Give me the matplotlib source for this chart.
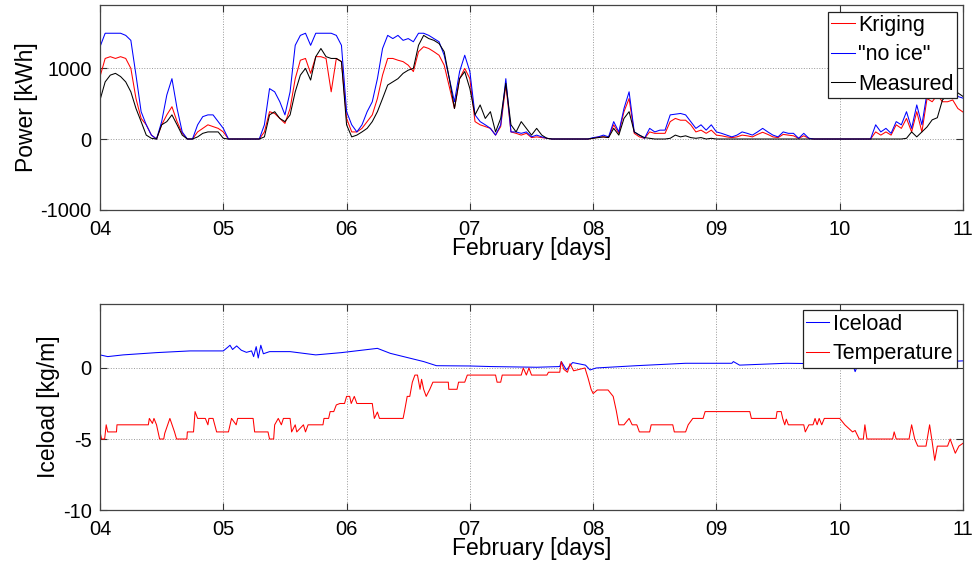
import numpy as np
import matplotlib
matplotlib.use("Agg")
import matplotlib.pyplot as plt

plt.rcParams['font.family'] = ['Liberation Sans', 'DejaVu Sans']
plt.rcParams['axes.unicode_minus'] = False

# hourly values from 4 Feb 00:00 to 11 Feb 00:00 (169 points)
kriging = [
    880, 1135, 1160, 1135, 1160, 1135, 995, 570, 290, 200, 55, 0, 200, 340, 455, 245, 80, 0, 0, 100, 150, 200, 175, 150,
    100, 0, 0, 0, 0, 0, 0, 0, 100, 385, 360, 290, 220, 430, 850, 1110, 1135, 925, 1160, 1160, 1135, 665, 1135, 1090,
    290, 100, 100, 150, 245, 340, 570, 900, 1135, 1135, 1110, 1090, 1040, 950, 1230, 1300, 1275, 1230, 1180, 1040, 735, 430, 850, 995,
    850, 245, 200, 175, 150, 55, 175, 760, 100, 80, 55, 80, 20, 30, 20, 10, 0, 0, 0, 0, 0, 0, 0, 0,
    10, 30, 30, 20, 200, 80, 385, 570, 80, 30, 10, 100, 80, 80, 80, 245, 290, 265, 265, 200, 100, 125, 80, 125,
    55, 45, 30, 20, 30, 55, 45, 30, 65, 95, 65, 30, 20, 65, 55, 45, 10, 45, 10, 0, 0, 0, 0, 0,
    0, 0, 0, 0, 0, 0, 0, 100, 55, 100, 55, 200, 150, 290, 100, 385, 100, 570, 525, 620, 525, 525, 550, 430,
    380]
no_ice = [
    1300, 1490, 1490, 1490, 1490, 1460, 1390, 900, 385, 200, 55, 0, 245, 620, 850, 430, 100, 0, 0, 200, 315, 340, 340, 245,
    150, 0, 0, 0, 0, 0, 0, 0, 200, 710, 665, 525, 340, 665, 1320, 1460, 1490, 1320, 1490, 1490, 1490, 1490, 1460, 1320,
    385, 200, 100, 200, 385, 525, 850, 1275, 1460, 1415, 1460, 1390, 1415, 1370, 1490, 1490, 1460, 1415, 1370, 1180, 850, 525, 950, 1180,
    950, 340, 245, 200, 150, 55, 200, 850, 100, 100, 80, 100, 30, 55, 30, 10, 0, 0, 0, 0, 0, 0, 0, 0,
    20, 30, 55, 30, 245, 100, 430, 665, 100, 55, 10, 150, 100, 125, 125, 340, 350, 360, 340, 245, 150, 200, 125, 200,
    100, 80, 55, 30, 55, 100, 80, 55, 100, 150, 100, 55, 30, 100, 80, 80, 10, 80, 10, 0, 0, 0, 0, 0,
    0, 0, 0, 0, 0, 0, 0, 200, 100, 150, 80, 245, 200, 385, 150, 480, 200, 650, 570, 710, 595, 570, 760, 600,
    575]
measured = [
    550, 805, 900, 925, 880, 805, 665, 430, 245, 55, 10, 0, 200, 245, 340, 200, 55, 0, 0, 30, 80, 100, 100, 100,
    10, 0, 0, 0, 0, 0, 0, 0, 30, 340, 385, 290, 245, 340, 665, 900, 995, 830, 1160, 1275, 1160, 1135, 1135, 1090,
    200, 30, 55, 100, 150, 245, 385, 570, 760, 805, 850, 925, 970, 995, 1320, 1460, 1415, 1390, 1345, 1230, 850, 430, 850, 950,
    710, 340, 480, 290, 385, 100, 290, 785, 200, 100, 245, 150, 55, 150, 55, 10, 0, 0, 0, 0, 0, 0, 0, 0,
    10, 20, 30, 20, 150, 55, 290, 385, 100, 55, 20, 10, 0, 0, 0, 10, 55, 30, 45, 20, 10, 20, 0, 10,
    0, 0, 0, 0, 0, 0, 0, 0, 0, 0, 0, 0, 0, 0, 0, 0, 0, 0, 0, 0, 0, 0, 0, 0,
    0, 0, 0, 0, 0, 0, 0, 0, 0, 0, 0, 0, 0, 10, 100, 30, 100, 170, 270, 300, 550, 620, 700, 650,
    600]

# ice load [kg/m], (hour, value) pairs
ice_h = [0, 1.5, 4.5, 11, 17.5, 24, 25, 25.3, 25.8, 26.6, 27.5, 28.5, 29.5, 29.9, 30.4, 30.8, 31.3, 31.8, 33, 37,
         42, 47, 54, 56.5, 63, 65.5, 72, 76, 85, 89.5, 89.8, 90.8, 92, 94.5, 95.4, 96.6, 104.4, 114, 123, 123.3,
         124.5, 133.6, 140, 146.5, 147, 147.5, 155, 168]
ice_v = [0.92, 0.8, 0.92, 1.08, 1.2, 1.2, 1.5, 1.6, 1.3, 1.55, 1.25, 1.1, 1.2, 0.8, 1.5, 0.7, 1.6, 1.0, 1.15, 1.15,
         0.92, 1.08, 1.38, 1.03, 0.45, 0.16, 0.14, 0.1, 0.05, 0.1, 0.45, -0.14, 0.38, 0.2, -0.14, 0.0, 0.16, 0.33, 0.33, 0.45,
         0.2, 0.33, 0.3, 0.3, -0.26, 0.2, 0.3, 0.5]

# temperature [C], (hour, value) pairs
temp_h = [0, 0.3, 0.9, 1.2, 1.5, 3.2, 3.3, 9.4, 9.6, 10.2, 10.5, 11.0, 11.6, 12.4, 12.6, 13.6, 14.5, 14.9, 16.9, 17.0,
          18.2, 18.5, 19.0, 20.5, 21.0, 21.2, 22.0, 22.7, 25.0, 25.6, 26.5, 26.8, 29.8, 30.1, 32.7, 33.0, 33.8, 34.0, 34.7, 35.3,
          35.7, 37.0, 37.3, 38.0, 38.3, 39.6, 40.0, 40.5, 43.4, 43.6, 44.5, 44.8, 45.5, 46.0, 46.7, 47.6, 48.0, 48.6, 48.9, 49.5,
          50.0, 53.0, 53.4, 54.0, 54.4, 59.0, 59.3, 59.8, 60.3, 60.8, 61.3, 61.8, 62.3, 62.6, 63.0, 63.5, 64.2, 64.8, 65.5, 67.8,
          67.9, 69.5, 69.8, 71.0, 71.5, 77.0, 77.3, 78.0, 78.3, 82.0, 82.4, 83.0, 83.5, 84.0, 87.0, 87.3, 89.5, 89.8, 90.3, 91.0,
          91.5, 92.2, 94.4, 95.0, 95.6, 96.0, 96.8, 98.9, 99.9, 100.5, 101.0, 102.0, 103.0, 103.6, 104.5, 105.0, 107.0, 107.3, 111.5, 111.8,
          114.0, 114.5, 115.4, 117.4, 117.8, 126.5, 126.8, 131.6, 131.8, 132.6, 132.9, 133.3, 133.6, 134.0, 137.0, 137.3, 138.0, 138.8, 139.2, 139.6,
          140.0, 140.5, 141.0, 144.0, 145.0, 146.5, 147.0, 147.8, 148.6, 148.9, 149.3, 154.3, 154.6, 155.0, 157.5, 158.0, 158.6, 159.2, 160.8, 161.5,
          162.0, 162.5, 163.0, 165.0, 165.5, 166.0, 166.5, 167.2, 168.0]
temp_v = [-4.5, -5, -5, -4.0, -4.5, -4.5, -4.0, -4.0, -3.55, -3.9, -3.55, -4.0, -5.0, -5.0, -4.6, -3.55, -4.5, -5.0, -5.0, -4.5,
          -4.5, -3.07, -3.55, -3.55, -4.0, -3.55, -3.55, -4.5, -4.5, -3.55, -4.0, -3.55, -3.55, -4.5, -4.5, -5.0, -5.0, -4.0, -3.55, -4.0,
          -3.55, -3.55, -4.5, -4.0, -4.5, -4.0, -4.5, -4.0, -4.0, -3.55, -3.55, -3.07, -3.07, -2.6, -2.5, -2.5, -2.0, -2.0, -2.5, -2.0,
          -2.5, -2.5, -3.55, -3.1, -3.55, -3.55, -3.0, -2.0, -2.0, -1.0, -0.5, -0.5, -1.5, -0.8, -1.5, -2.0, -1.5, -1.0, -1.0, -1.0,
          -1.5, -1.5, -1.0, -1.0, -0.5, -0.5, -1.0, -1.0, -0.5, -0.5, 0.0, -0.5, 0.0, -0.5, -0.5, -0.3, -0.3, 0.45, -0.1, -0.3,
          0.3, -0.2, 0.0, -0.7, -1.5, -1.8, -1.55, -1.55, -2.0, -3.0, -4.0, -4.0, -3.55, -4.0, -4.0, -4.5, -4.5, -4.0, -4.0, -4.5,
          -4.5, -4.0, -3.55, -3.55, -3.07, -3.07, -3.55, -3.55, -3.07, -3.07, -3.55, -4.0, -3.6, -4.0, -4.0, -4.5, -4.0, -4.0, -3.55, -4.0,
          -3.55, -4.0, -3.55, -3.55, -4.0, -4.5, -4.4, -5.0, -5.0, -4.0, -5.0, -5.0, -4.5, -5.0, -5.0, -4.0, -5.0, -5.5, -5.5, -4.0,
          -5.2, -6.5, -5.5, -5.5, -5.0, -5.5, -6.0, -5.5, -5.3]

day_ticks = [4, 5, 6, 7, 8, 9, 10, 11]
day_labels = ['04', '05', '06', '07', '08', '09', '10', '11']

t_power = 4 + np.arange(len(kriging)) / 24.0
t_ice = 4 + np.array(ice_h) / 24.0
t_temp = 4 + np.array(temp_h) / 24.0

fig = plt.figure(figsize=(9.74, 5.63), dpi=100)
ax1 = fig.add_axes([0.1027, 0.627, 0.886, 0.364])
ax2 = fig.add_axes([0.1027, 0.094, 0.886, 0.366])

lw = 0.75
l_kr, = ax1.plot(t_power, kriging, color='r', lw=lw, label='Kriging')
l_ni, = ax1.plot(t_power, no_ice, color='b', lw=lw, label='"no ice"')
l_me, = ax1.plot(t_power, measured, color='k', lw=lw, label='Measured')
ax1.set_ylim(-1000, 1887)
ax1.set_yticks([-1000, 0, 1000])
ax1.set_ylabel('Power [kWh]', fontsize=16.5, labelpad=2)

l_ice, = ax2.plot(t_ice, ice_v, color='b', lw=lw, label='Iceload')
l_tmp, = ax2.plot(t_temp, temp_v, color='r', lw=lw, label='Temperature')
ax2.set_ylim(-10, 4.5)
ax2.set_yticks([-10, -5, 0])
ax2.set_ylabel('Iceload [kg/m]', fontsize=16.5, labelpad=2)

for ax, hs in ((ax1, [l_kr, l_ni, l_me]), (ax2, [l_ice, l_tmp])):
    ax.set_xlim(4, 11)
    ax.set_xticks(day_ticks)
    ax.set_xticklabels(day_labels)
    ax.set_xlabel('February [days]', fontsize=16.5, labelpad=-1)
    ax.grid(True, linestyle=':', color='#999999', lw=0.7)
    ax.tick_params(direction='in', top=True, right=True, length=5, width=0.8,
                   labelsize=14.5, color='#333333')
    ax.tick_params(axis='x', pad=7)
    ax.tick_params(axis='y', pad=6)
    for s in ax.spines.values():
        s.set_color('#444444')
        s.set_linewidth(0.9)
    leg = ax.legend(handles=hs, loc='upper right', fontsize=15.5, fancybox=False, framealpha=1,
                    edgecolor='#222222', borderaxespad=0.3, handlelength=1.1,
                    handletextpad=0.15, labelspacing=0.4, borderpad=0.15)
    leg.get_frame().set_linewidth(0.9)

fig.savefig('out.png', dpi=100)
